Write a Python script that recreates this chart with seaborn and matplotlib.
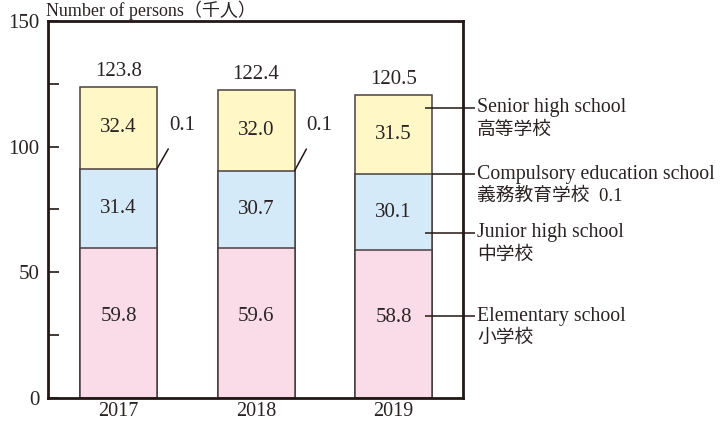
import matplotlib
matplotlib.use("Agg")
import matplotlib.pyplot as plt
from matplotlib.ticker import FixedLocator
import seaborn as sns
import pandas as pd
import numpy as np

# ---- data ----
years = ["2017", "2018", "2019"]
elementary = [59.8, 59.6, 58.8]
junior = [31.4, 30.7, 30.1]
compulsory = [0.1, 0.1, 0.1]
senior = [32.4, 32.0, 31.5]
totals = [123.8, 122.4, 120.5]
yticks_major = [0, 50, 100, 150]
yticks_minor = [25, 75, 125]
series_names = [("Senior high school", "高等学校"),
                ("Compulsory education school", "義務教育学校  0.1"),
                ("Junior high school", "中学校"),
                ("Elementary school", "小学校")]
ylabel = "Number of persons（千人）"

sns.set_style("white")
plt.rcParams["font.family"] = ["Liberation Serif", "Noto Sans CJK JP", "DejaVu Sans"]

TXT = "#2b2323"
EDGE = "#4a3f3f"
C_PINK = "#F9DCE7"
C_BLUE = "#D5EAF8"
C_YEL = "#FFF8C6"
FS = 15

el = np.array(elementary)
ju = np.array(junior)
co = np.array(compulsory)
se = np.array(senior)
df = pd.DataFrame({
    "year": years,
    "top_senior": el + ju + co + se,
    "top_comp": el + ju + co,
    "top_elem": el,
})

fig = plt.figure(figsize=(7.24, 4.23), dpi=100)
ax = fig.add_axes([48 / 724, 25 / 423, (463 - 48) / 724, (398 - 21) / 423])

W = 0.56
for col, c in [("top_senior", C_YEL), ("top_comp", C_BLUE), ("top_elem", C_PINK)]:
    sns.barplot(data=df, x="year", y=col, color=c, saturation=1, width=W,
                edgecolor=EDGE, linewidth=1.1, errorbar=None, ax=ax)

ax.set_xlim(-0.513, 2.505)
ax.set_ylim(0, 150)
ax.set_xlabel("")
ax.set_ylabel("")

for s in ax.spines.values():
    s.set_visible(True)
    s.set_linewidth(2)
    s.set_color("#231815")

ax.yaxis.set_major_locator(FixedLocator(yticks_major))
ax.yaxis.set_minor_locator(FixedLocator(yticks_minor))
ax.tick_params(axis="y", which="both", direction="in", length=8, width=1.2,
               color="#231815", left=True, right=False, labelsize=FS,
               labelcolor=TXT, pad=6)
ax.tick_params(axis="x", length=0, labelsize=14.5, labelcolor=TXT, pad=3)

# value labels inside segments
for i in range(len(years)):
    ax.text(i, el[i] / 2 + 2.5, f"{elementary[i]:.1f}", ha="center", va="center",
            fontsize=FS, color=TXT)
    ax.text(i, el[i] + ju[i] / 2, f"{junior[i]:.1f}", ha="center", va="center",
            fontsize=FS, color=TXT)
    ax.text(i, el[i] + ju[i] + co[i] + se[i] / 2, f"{senior[i]:.1f}",
            ha="center", va="center", fontsize=FS, color=TXT)
    ax.text(i, el[i] + ju[i] + co[i] + se[i] + 2.5, f"{totals[i]:.1f}",
            ha="center", va="bottom", fontsize=FS, color=TXT)

# 0.1 leader labels for 2017/2018
for i in range(2):
    yb = el[i] + ju[i] + co[i]
    ax.annotate(f"{compulsory[i]:.1f}", xy=(i + W / 2, yb),
                xytext=(i + 0.46, 108.5), ha="center", va="center",
                fontsize=FS, color=TXT,
                arrowprops=dict(arrowstyle="-", color="#231815", lw=1.1,
                                shrinkA=9, shrinkB=0))

# right-side series labels
i = 2
line_y = [el[i] + ju[i] + co[i] + se[i] * 0.84,
          el[i] + ju[i] + co[i],
          el[i] + ju[i] * 0.23,
          el[i] * 0.553]
line_x0 = [2.229, 2.0 + W / 2, 2.229, 2.229]
x_end = 2.593
x_text = 2.607
for (en, ja), y, x0 in zip(series_names, line_y, line_x0):
    ax.plot([x0, x_end], [y, y], color="#231815", lw=1.1, clip_on=False,
            solid_capstyle="butt")
    ax.text(x_text, y, en, ha="left", va="center", fontsize=14.3, color=TXT,
            clip_on=False)
    ax.annotate(ja, xy=(x_text, y), xytext=(0, -16), textcoords="offset points",
                ha="left", va="center", fontsize=13.5, color=TXT,
                annotation_clip=False)

fig.text(46 / 724, 1 - 1 / 423, ylabel, ha="left", va="top",
         fontsize=13, color=TXT)

fig.savefig("out.png", dpi=100)
